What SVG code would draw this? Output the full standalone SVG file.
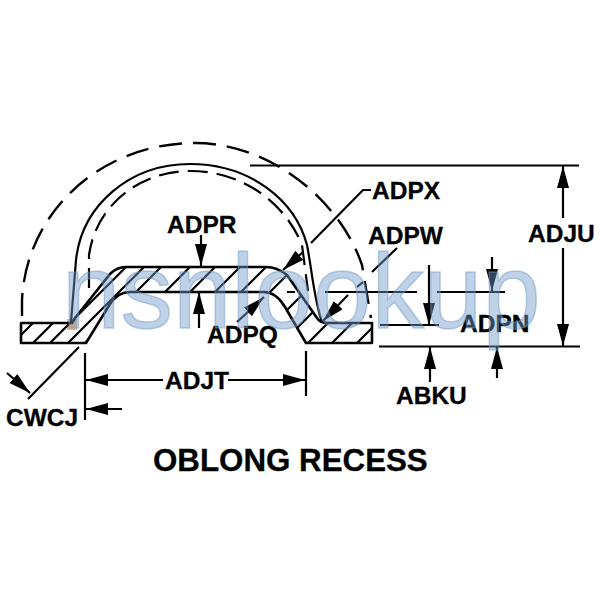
<svg xmlns="http://www.w3.org/2000/svg" width="600" height="600" viewBox="0 0 600 600">
<style>
.o{fill:none;stroke:#000;stroke-width:2.6;stroke-linejoin:round}
.t{fill:none;stroke:#000;stroke-width:2.2}
.h{fill:none;stroke:#000;stroke-width:2.2}
.d{fill:none;stroke:#000;stroke-width:2.4;stroke-dasharray:23 11}
.e{fill:none;stroke:#000;stroke-width:2.2;stroke-dasharray:20 9}
.l{font-family:"Liberation Sans",Arial,sans-serif;font-weight:700;font-size:24.5px;fill:#000;stroke:#000;stroke-width:.3}
</style>
<defs>
<marker id="a" markerUnits="userSpaceOnUse" markerWidth="24" markerHeight="14" refX="22" refY="6" orient="auto"><path d="M0 0L22 6L0 12z" fill="#000"/></marker>
<clipPath id="c"><path d="M21 323H72L75 318L110 274Q117 267 126 267H266Q277 267 287 275L317 318Q320 323 328 323H372V343H306L285 307Q276 292 264 292H130Q118 292 110 304L86 343H21z"/></clipPath>
</defs>
<rect x="67" y="319" width="10" height="11" fill="#f4b183"/>
<g id="part">
<g clip-path="url(#c)"><path class="h" d="M1 355L91 265M21 355L111 265M38 355L128 265M56 355L146 265M73 355L163 265M102 355L192 265M127 355L217 265M152 355L242 265M178 355L268 265M207 355L297 265M242 355L332 265M270 355L360 265M296 355L386 265M320 355L410 265M345 355L435 265"/></g>
<path class="o" d="M21 323H72L75 318L110 274Q117 267 126 267H266Q277 267 287 275L317 318Q320 323 328 323H372V343H306L285 307Q276 292 264 292H130Q118 292 110 304L86 343H21z"/>
<path class="t" d="M71 322L76 260C82 205 130 164 190 164C250 164 295 200 307 245C312 270 314 300 322 322"/>
<path class="e" d="M89 288V255C96 205 140 171 190 171C245 171 286 205 302 245L308 291"/>
<path class="d" d="M22 316V300C26 213 100 143 195 143C270 143 340 200 362 265L371 318"/>
</g>
<g id="connectors">
<path class="t" d="M250 165.500H579M379 346.500H580M380 325H439M325 292H417M437 292H505M287 292H295M85 353V420M306 351V396M79 347L28 399M371 190H363L311 243"/>
<path class="t" marker-end="url(#a)" d="M563 218V166"/>
<path class="t" marker-end="url(#a)" d="M563 248V346"/>
<path class="t" marker-end="url(#a)" d="M429 265V325"/>
<path class="t" marker-end="url(#a)" d="M492 257V291"/>
<path class="t" marker-end="url(#a)" d="M497 378V347"/>
<path class="t" marker-end="url(#a)" d="M430 382V347"/>
<path class="t" marker-end="url(#a)" d="M303 252L283 270"/>
<path class="t" d="M397 248L372 272M363 282L357 287"/>
<path class="t" marker-end="url(#a)" d="M348 295L323 321"/>
<path class="t" marker-end="url(#a)" d="M201 235V266"/>
<path class="t" marker-end="url(#a)" d="M199 328V292"/>
<path class="t" marker-end="url(#a)" d="M237 322L264 297"/>
<path class="t" marker-end="url(#a)" d="M163 380H86"/>
<path class="t" marker-end="url(#a)" d="M228 380H305"/>
<path class="t" marker-end="url(#a)" d="M7 373L30 393"/>
<path class="t" marker-end="url(#a)" d="M122 409H86"/>
</g>
<g id="labels">
<text class="l" x="372" y="199">ADPX</text>
<text class="l" x="368" y="244">ADPW</text>
<text class="l" x="167" y="233">ADPR</text>
<text class="l" x="207" y="343">ADPQ</text>
<text class="l" x="528" y="242">ADJU</text>
<text class="l" x="460" y="332">ADPN</text>
<text class="l" x="165" y="389">ADJT</text>
<text class="l" x="396" y="404">ABKU</text>
<text class="l" x="6" y="426">CWCJ</text>
<text class="l" x="153" y="471" style="font-size:31.300px">OBLONG RECESS</text>
</g>
<text x="62" y="328" font-family="'Liberation Sans',Arial,sans-serif" font-size="105" fill="#6f9ac8" fill-opacity="0.45" stroke="#6f9ac8" stroke-opacity="0.45" stroke-width="1.500">nsnlookup</text>
</svg>
